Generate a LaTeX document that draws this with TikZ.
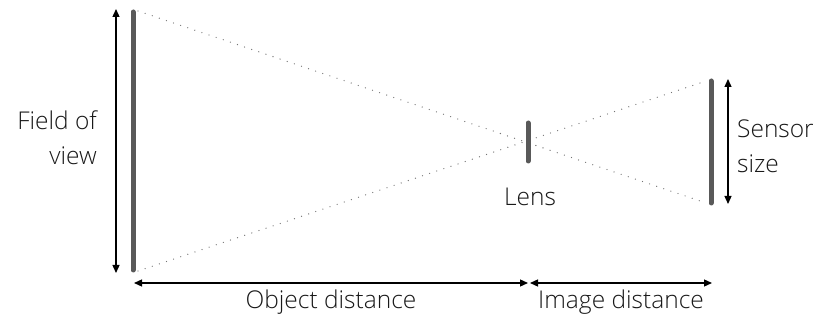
\documentclass[tikz,border=0pt]{standalone}
\usepackage{fontspec}
\setmainfont{Open Sans}[UprightFont=* Light]
\usetikzlibrary{arrows.meta}
\definecolor{bar}{HTML}{595959}
\begin{document}
\begin{tikzpicture}[x=1pt,y=-1pt,
  barline/.style={line width=5pt,line cap=round,draw=bar},
  dim/.style={line width=1.3pt,{Triangle[length=8pt,width=7pt]}-{Triangle[length=8pt,width=7pt]}},
  ray/.style={line width=1.3pt,line cap=round,dash pattern=on 0pt off 7.5pt,draw=black!55},
  lbl/.style={font=\fontsize{24.5}{35}\selectfont,text=black!90,inner sep=0pt}]
\useasboundingbox (0,0) rectangle (816,320);
% bars
\coordinate (ot) at (133,12);
\coordinate (ob) at (133,270);
\coordinate (lt) at (528,123);
\coordinate (lb) at (528,161);
\coordinate (st) at (711,81);
\coordinate (sb) at (711,203);
% rays
\coordinate (rt1) at (138,11);
\coordinate (rb1) at (706,203);
\coordinate (rt2) at (138,271);
\coordinate (rb2) at (706,81);
\draw[ray] (rt1) -- (rb1);
\draw[ray] (rt2) -- (rb2);
\draw[barline] (ot) -- (ob);
\draw[barline] (lt) -- (lb);
\draw[barline] (st) -- (sb);
% dimension arrows
\coordinate (fa) at (116,9);
\coordinate (fb) at (116,273);
\draw[dim] (fa) -- (fb);
\coordinate (sa) at (728,79);
\coordinate (sbb) at (728,204);
\draw[dim] (sa) -- (sbb);
\coordinate (oa) at (134,283);
\coordinate (ob2) at (528,283);
\draw[dim] (oa) -- (ob2);
\coordinate (ia) at (530,283);
\coordinate (ib) at (712,283);
\draw[dim] (ia) -- (ib);
% labels
\node[lbl,align=right,anchor=east] (fov) at (97,138) {Field of\\view};
\node[lbl] (lens) at (530,197) {Lens};
\node[lbl,align=left,anchor=west] (sens) at (737,146) {Sensor\\size};
\node[lbl] (od) at (331,302) {Object distance};
\node[lbl] (id) at (621,302) {Image distance};
\end{tikzpicture}
\end{document}
